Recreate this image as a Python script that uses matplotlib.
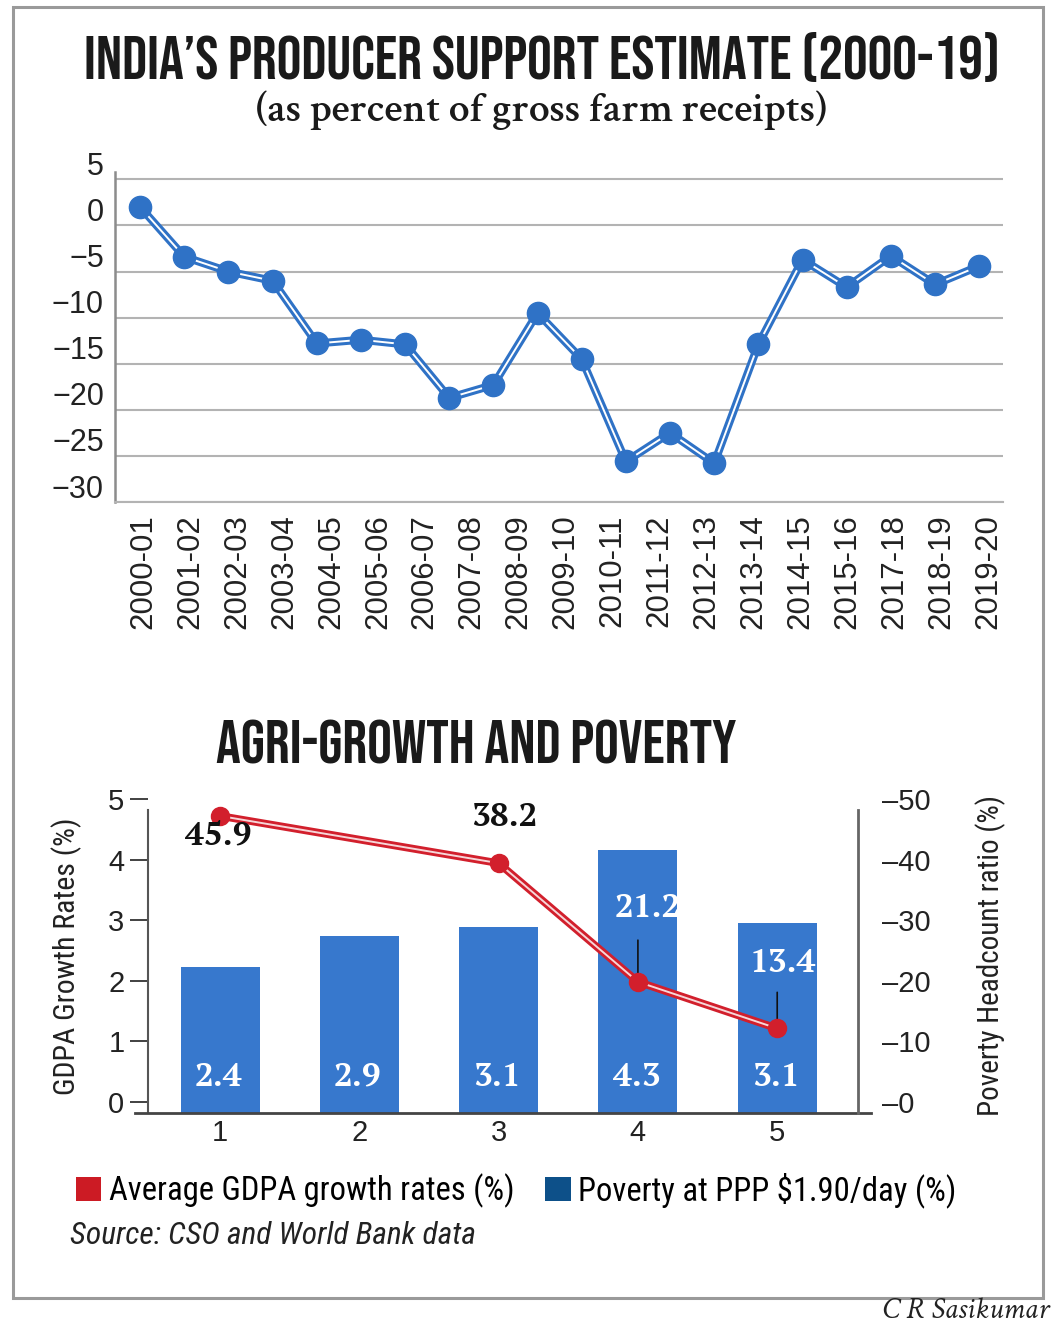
import numpy as np
import matplotlib
matplotlib.use('Agg')
import matplotlib.pyplot as plt
import matplotlib.patheffects as pe
from matplotlib.patches import Patch, Rectangle
from matplotlib.transforms import ScaledTranslation

# fonts
TITLE_FONT = ['Bebas Neue', 'Oswald', 'DejaVu Sans']
COND_FONT = ['Roboto Condensed', 'Liberation Sans', 'DejaVu Sans']
SANS_FONT = ['Liberation Sans', 'DejaVu Sans']
SERIF_FONT = ['Crimson Text', 'Liberation Serif', 'DejaVu Serif']
NUM_FONT = ['PT Serif', 'Liberation Serif', 'DejaVu Serif']

# ---- data: producer support estimate (% of gross farm receipts)
pse_years = ['2000-01', '2001-02', '2002-03', '2003-04', '2004-05', '2005-06', '2006-07',
             '2007-08', '2008-09', '2009-10', '2010-11', '2011-12', '2012-13', '2013-14',
             '2014-15', '2015-16', '2017-18', '2018-19', '2019-20']
pse_values = [2.0, -3.4, -5.0, -6.0, -12.8, -12.4, -12.9, -18.7, -17.3, -9.5,
              -14.5, -25.6, -22.5, -25.8, -12.9, -3.7, -6.7, -3.3, -6.4, -4.4]
pse_ticks = [5, 0, -5, -10, -15, -20, -25, -30]

# ---- data: agri-growth and poverty
periods = [1, 2, 3, 4, 5]
gdpa_bars = [2.23, 2.73, 2.88, 4.16, 2.95]
gdpa_labels = ['2.4', '2.9', '3.1', '4.3', '3.1']
pov_x = [1, 3, 4, 5]
pov_values = [47.2, 39.4, 19.8, 12.1]
pov_labels = ['45.9', '38.2', '21.2', '13.4']
left_ticks = [0, 1, 2, 3, 4, 5]
right_ticks = [0, 10, 20, 30, 40, 50]

BLUE = '#2f72c6'
BAR_BLUE = '#3778cd'
RED = '#d21f2c'

fig = plt.figure(figsize=(10.53, 13.26), dpi=100)
W, H = 1053.0, 1326.0

# outer frame
fig.add_artist(Rectangle((13 / W, 1 - 1298 / H), 1030 / W, 1291 / H, transform=fig.transFigure,
                         fill=False, edgecolor='#9a9a9a', linewidth=2.2))

# ================= top chart =================
fig.text(542 / W, 1 - 57 / H, 'INDIA\u2019S PRODUCER SUPPORT ESTIMATE (2000-19)', ha='center', va='center',
         fontsize=44.5, family=TITLE_FONT, color='#1a1a1a')
fig.text(541 / W, 1 - 110 / H, '(as percent of gross farm receipts)', ha='center', va='center',
         fontsize=30, family=SERIF_FONT, fontweight='semibold', color='#1a1a1a')

ax = fig.add_axes([115 / W, 1 - 502 / H, 888 / W, 330 / H])
x = np.arange(len(pse_values))
ax.plot(x, pse_values, color='white', lw=1.4, zorder=3,
        path_effects=[pe.Stroke(linewidth=5.8, foreground=BLUE), pe.Normal()])
ax.plot(x, pse_values, 'o', color=BLUE, markersize=16, zorder=4)
ax.set_xlim(-0.57, 19.54)
ax.set_ylim(-30, 5.8)
ax.set_yticks(pse_ticks)
ax.yaxis.grid(True, color='#b3b3b3', lw=1.5)
ax.set_axisbelow(True)
ax.tick_params(axis='y', length=0, pad=8, labelsize=22, labelcolor='#222222')
for lab in ax.get_yticklabels():
    lab.set_family(SANS_FONT)
off = ScaledTranslation(0, 0.16, fig.dpi_scale_trans)
for t in ax.yaxis.get_major_ticks():
    t.label1.set_transform(t.label1.get_transform() + off)
ax.set_xticks(np.linspace(0.07, 19.2, len(pse_years)))
ax.set_xticklabels(pse_years, rotation=90, fontsize=22.5, family=SANS_FONT, color='#222222')
ax.tick_params(axis='x', length=0, pad=9)
for s in ['top', 'right']:
    ax.spines[s].set_visible(False)
ax.spines['left'].set_color('#8c8c8c')
ax.spines['left'].set_linewidth(1.8)
ax.spines['bottom'].set_color('#b3b3b3')
ax.spines['bottom'].set_linewidth(1.5)

# ================= bottom chart =================
fig.text(476 / W, 1 - 742 / H, 'AGRI-GROWTH AND POVERTY', ha='center', va='center',
         fontsize=44.5, family=TITLE_FONT, color='#1a1a1a')

bx = fig.add_axes([148 / W, 1 - 1113 / H, 710 / W, 314 / H])
y0 = -0.187
bx.set_ylim(y0, 5.0)
bx.set_xlim(0.483, 5.58)
bx.bar(periods, np.array(gdpa_bars) - y0, bottom=y0, width=0.567, color=BAR_BLUE, zorder=2)
for p, lab in zip(periods, gdpa_labels):
    bx.annotate(lab, (p, y0), xytext=(-1, 26), textcoords='offset points', ha='center', va='center',
                fontsize=24, fontweight='bold', family=NUM_FONT, color='white', zorder=5)
bx.set_yticks(left_ticks)
bx.set_xticks(periods)
bx.tick_params(axis='y', length=13, width=1.3, color='#333333', pad=4, labelsize=21, labelcolor='#222222')
bx.tick_params(axis='x', length=0, pad=4, labelsize=21, labelcolor='#222222')
for lab in bx.get_xticklabels() + bx.get_yticklabels():
    lab.set_family(SANS_FONT)
bx.spines['top'].set_visible(False)
bx.spines['right'].set_visible(False)
bx.spines['left'].set_bounds(y0, 4.82)
bx.spines['left'].set_color('#555555')
bx.spines['left'].set_linewidth(1.5)
bx.spines['bottom'].set_bounds(0.39, 5.67)
bx.spines['bottom'].set_color('#444444')
bx.spines['bottom'].set_linewidth(2)
bx.set_ylabel('GDPA Growth Rates (%)', fontsize=21.5, family=COND_FONT, color='#222222')
bx.yaxis.set_label_coords(-0.093, 0.5)

rx = bx.twinx()
rx.set_ylim(y0 * 10, 50)
rx.plot(pov_x, pov_values, color='#f6d6d8', lw=1.4, zorder=3,
        path_effects=[pe.Stroke(linewidth=5.5, foreground=RED), pe.Normal()])
rx.plot(pov_x, pov_values, 'o', color=RED, markersize=13, zorder=4)
rx.set_yticks(right_ticks)
rx.set_yticklabels(['\u2013%d' % v for v in right_ticks], family=SANS_FONT)
rx.tick_params(axis='y', length=0, pad=17, labelsize=21, labelcolor='#222222')
for s in ['top', 'left', 'bottom']:
    rx.spines[s].set_visible(False)
rx.spines['right'].set_bounds(y0 * 10, 48.2)
rx.spines['right'].set_color('#666666')
rx.spines['right'].set_linewidth(2)
rx.set_ylabel('Poverty Headcount ratio (%)', fontsize=21, family=COND_FONT, color='#222222')
rx.yaxis.set_label_coords(1.165, 0.5)

# poverty value labels (dark above line, white inside bars with leader lines)
lab_offsets = [(-1.5, -14), (4, 33), (7, 53), (4, 47)]
lab_colors = ['#111111', '#111111', 'white', 'white']
for px, pv, lab, (dx, dy), c in zip(pov_x, pov_values, pov_labels, lab_offsets, lab_colors):
    rx.annotate(lab, (px, pv), xytext=(dx, dy), textcoords='offset points', ha='center', va='center',
                fontsize=24, fontweight='bold', family=NUM_FONT, color=c, zorder=6)
for px, pv, top in zip(pov_x[2:], pov_values[2:], [30, 26]):
    rx.annotate('', (px, pv), xytext=(0, top), textcoords='offset points',
                arrowprops=dict(arrowstyle='-', color='#111111', lw=1.2, shrinkA=0, shrinkB=4), zorder=3)

# legend
handles = [Patch(facecolor='#cc1b24', edgecolor='none', label='Average GDPA growth rates (%)'),
           Patch(facecolor='#0d5089', edgecolor='none', label='Poverty at PPP $1.90/day (%)')]
fig.legend(handles=handles, loc='center left', bbox_to_anchor=(76 / W, 1 - 1190 / H), ncol=2,
           frameon=False, borderpad=0, borderaxespad=0, handlelength=0.78, handleheight=0.74,
           handletextpad=0.22, columnspacing=0.95, prop={'family': COND_FONT, 'size': 23.5})

fig.text(70 / W, 1 - 1235 / H, 'Source: CSO and World Bank data', ha='left', va='center',
         fontsize=22.7, family=COND_FONT, style='italic', color='#222222')
fig.text(1049 / W, 1 - 1311 / H, 'C R Sasikumar', ha='right', va='center',
         fontsize=22, family=SERIF_FONT, style='italic', color='#222222')

fig.savefig('out.png', dpi=100)
